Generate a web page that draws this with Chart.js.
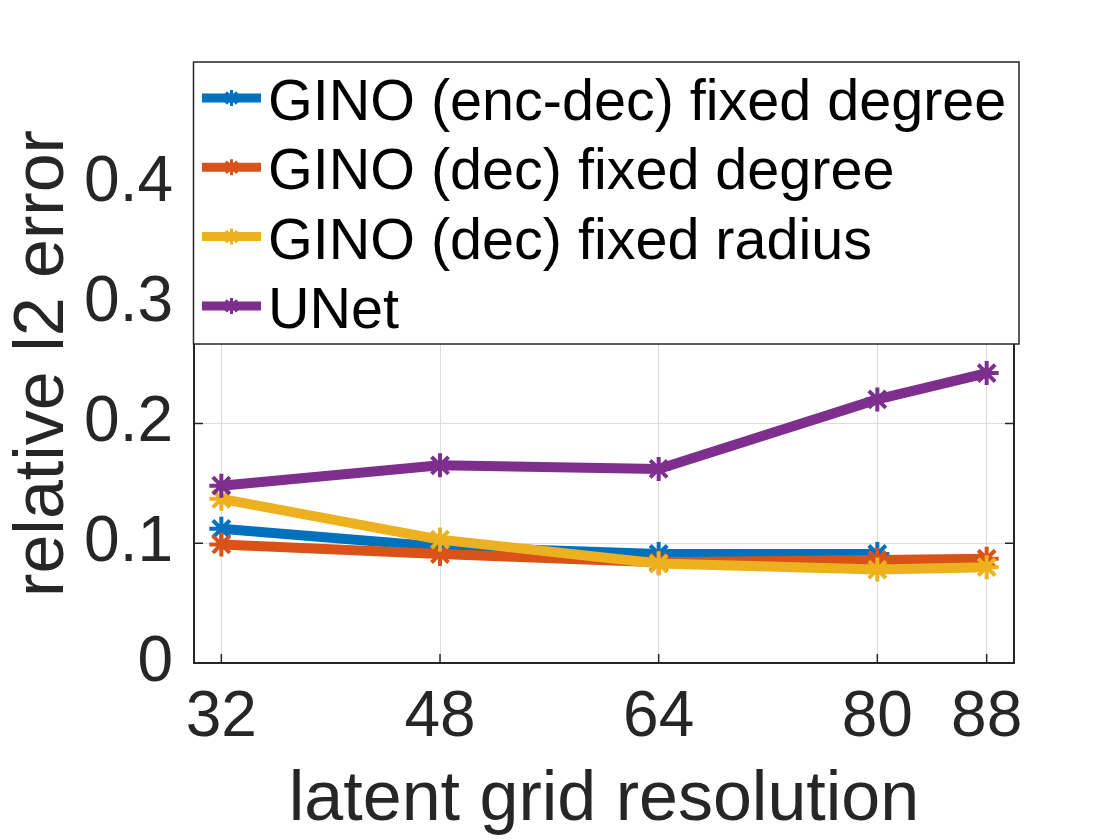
<!DOCTYPE html>
<html>
<head>
<meta charset="utf-8">
<script src="https://cdn.jsdelivr.net/npm/chart.js@4/dist/chart.umd.min.js"></script>
<style>
  html, body { margin: 0; padding: 0; background: #ffffff; }
  #wrap { width: 1120px; height: 840px; }
</style>
</head>
<body>
<div id="wrap"><canvas id="c" width="1120" height="840"></canvas></div>
<script>
// ---- data ----
const resolutions = [32, 48, 64, 80, 88];
const xTickValues = [32, 48, 64, 80, 88];
const yTickValues = [0, 0.1, 0.2, 0.3, 0.4];
const seriesNames = [
  'GINO (enc-dec) fixed degree',
  'GINO (dec) fixed degree',
  'GINO (dec) fixed radius',
  'UNet'
];
const ginoEncDecFixedDegree = [0.112, 0.097, 0.091, 0.091, null];
const ginoDecFixedDegree    = [0.099, 0.091, 0.084, 0.086, 0.087];
const ginoDecFixedRadius    = [0.137, 0.103, 0.083, 0.078, 0.080];
const unet                  = [0.148, 0.165, 0.162, 0.220, 0.242];

const colors = ['#0072BD', '#D95319', '#EDB120', '#7E2F8E'];
const seriesValues = [ginoEncDecFixedDegree, ginoDecFixedDegree, ginoDecFixedRadius, unet];

const FONT = '"Liberation Sans", Arial, Helvetica, sans-serif';
const AXIS_COLOR = '#262626';

const datasets = seriesValues.map((vals, i) => ({
  label: seriesNames[i],
  data: resolutions.map((x, j) => ({ x: x, y: vals[j] })).filter(p => p.y !== null),
  borderColor: colors[i],
  backgroundColor: colors[i],
  borderWidth: 10,
  pointStyle: 'star',
  pointRadius: 12,
  pointBorderWidth: 4,
  pointBorderColor: colors[i],
  pointBackgroundColor: colors[i],
  tension: 0,
  order: seriesValues.length - i,
  clip: false
}));

const boxPlugin = {
  id: 'matlabBox',
  afterDraw(chart) {
    const ctx = chart.ctx;
    const a = chart.chartArea;
    const xs = chart.scales.x, ys = chart.scales.y;
    ctx.save();
    ctx.strokeStyle = AXIS_COLOR;
    ctx.lineWidth = 2;
    ctx.strokeRect(a.left, a.top, a.right - a.left, a.bottom - a.top);
    // inward ticks
    const tl = 9;
    ctx.lineWidth = 1.5;
    ctx.beginPath();
    yTickValues.forEach(v => {
      const py = ys.getPixelForValue(v);
      ctx.moveTo(a.left, py); ctx.lineTo(a.left + tl, py);
      ctx.moveTo(a.right, py); ctx.lineTo(a.right - tl, py);
    });
    xTickValues.forEach(v => {
      const px = xs.getPixelForValue(v);
      ctx.moveTo(px, a.bottom); ctx.lineTo(px, a.bottom - tl);
      ctx.moveTo(px, a.top); ctx.lineTo(px, a.top + tl);
    });
    ctx.stroke();

    // legend box (MATLAB-style, inside axes at top)
    const L = 193.5, T = 62, R = 1019, B = 344;
    ctx.fillStyle = '#ffffff';
    ctx.fillRect(L, T, R - L, B - T);
    ctx.strokeStyle = AXIS_COLOR;
    ctx.lineWidth = 1.5;
    ctx.strokeRect(L, T, R - L, B - T);
    const rowH = 69.3;
    chart.data.datasets.forEach((ds, i) => {
      const cy = 98 + i * rowH;
      ctx.strokeStyle = ds.borderColor;
      ctx.lineWidth = 9;
      ctx.lineCap = 'butt';
      ctx.beginPath();
      ctx.moveTo(202, cy); ctx.lineTo(261, cy);
      ctx.stroke();
      // star marker
      const cx = 231.5, r = 8;
      ctx.lineWidth = 3;
      ctx.beginPath();
      for (let k = 0; k < 4; k++) {
        const ang = k * Math.PI / 4 + Math.PI / 2;
        ctx.moveTo(cx + r * Math.cos(ang), cy + r * Math.sin(ang));
        ctx.lineTo(cx - r * Math.cos(ang), cy - r * Math.sin(ang));
      }
      ctx.stroke();
      ctx.fillStyle = '#000000';
      ctx.font = '57.5px ' + FONT;
      ctx.textAlign = 'left';
      ctx.textBaseline = 'alphabetic';
      ctx.fillText(ds.label, 268, 120 + i * rowH);
    });
    ctx.restore();
  }
};

new Chart(document.getElementById('c'), {
  type: 'line',
  data: { datasets: datasets },
  options: {
    responsive: false,
    animation: false,
    devicePixelRatio: 1,
    layout: { padding: { left: 0, right: 106, top: 64, bottom: 0 } },
    plugins: { legend: { display: false }, tooltip: { enabled: false } },
    scales: {
      x: {
        type: 'linear',
        min: 30, max: 90,
        afterBuildTicks: s => { s.ticks = xTickValues.map(v => ({ value: v })); },
        afterFit: s => { s.height = 177; },
        grid: { color: '#dcdcdc', lineWidth: 1, drawTicks: false },
        border: { display: false },
        ticks: {
          padding: 17,
          color: AXIS_COLOR,
          font: { family: FONT, size: 64, lineHeight: 1.2 },
          maxRotation: 0, autoSkip: false,
          callback: v => String(v)
        },
        title: {
          display: true,
          text: 'latent grid resolution',
          color: AXIS_COLOR,
          font: { family: FONT, size: 70, lineHeight: 1.0 },
          padding: { top: 0, bottom: 4 }
        }
      },
      y: {
        type: 'linear',
        min: 0, max: 0.5,
        afterBuildTicks: s => { s.ticks = yTickValues.map(v => ({ value: v })); },
        afterFit: s => { s.width = 194; },
        grid: { color: '#dcdcdc', lineWidth: 1, drawTicks: false },
        border: { display: false },
        ticks: {
          padding: 21,
          color: AXIS_COLOR,
          font: { family: FONT, size: 64, lineHeight: 1.2 },
          callback: v => (v === 0 ? '0' : String(Math.round(v * 10) / 10))
        },
        title: {
          display: true,
          text: 'relative l2 error',
          color: AXIS_COLOR,
          font: { family: FONT, size: 70, lineHeight: 1.0 },
          padding: { top: 9, bottom: 0 }
        }
      }
    }
  },
  plugins: [boxPlugin]
});
</script>
</body>
</html>
